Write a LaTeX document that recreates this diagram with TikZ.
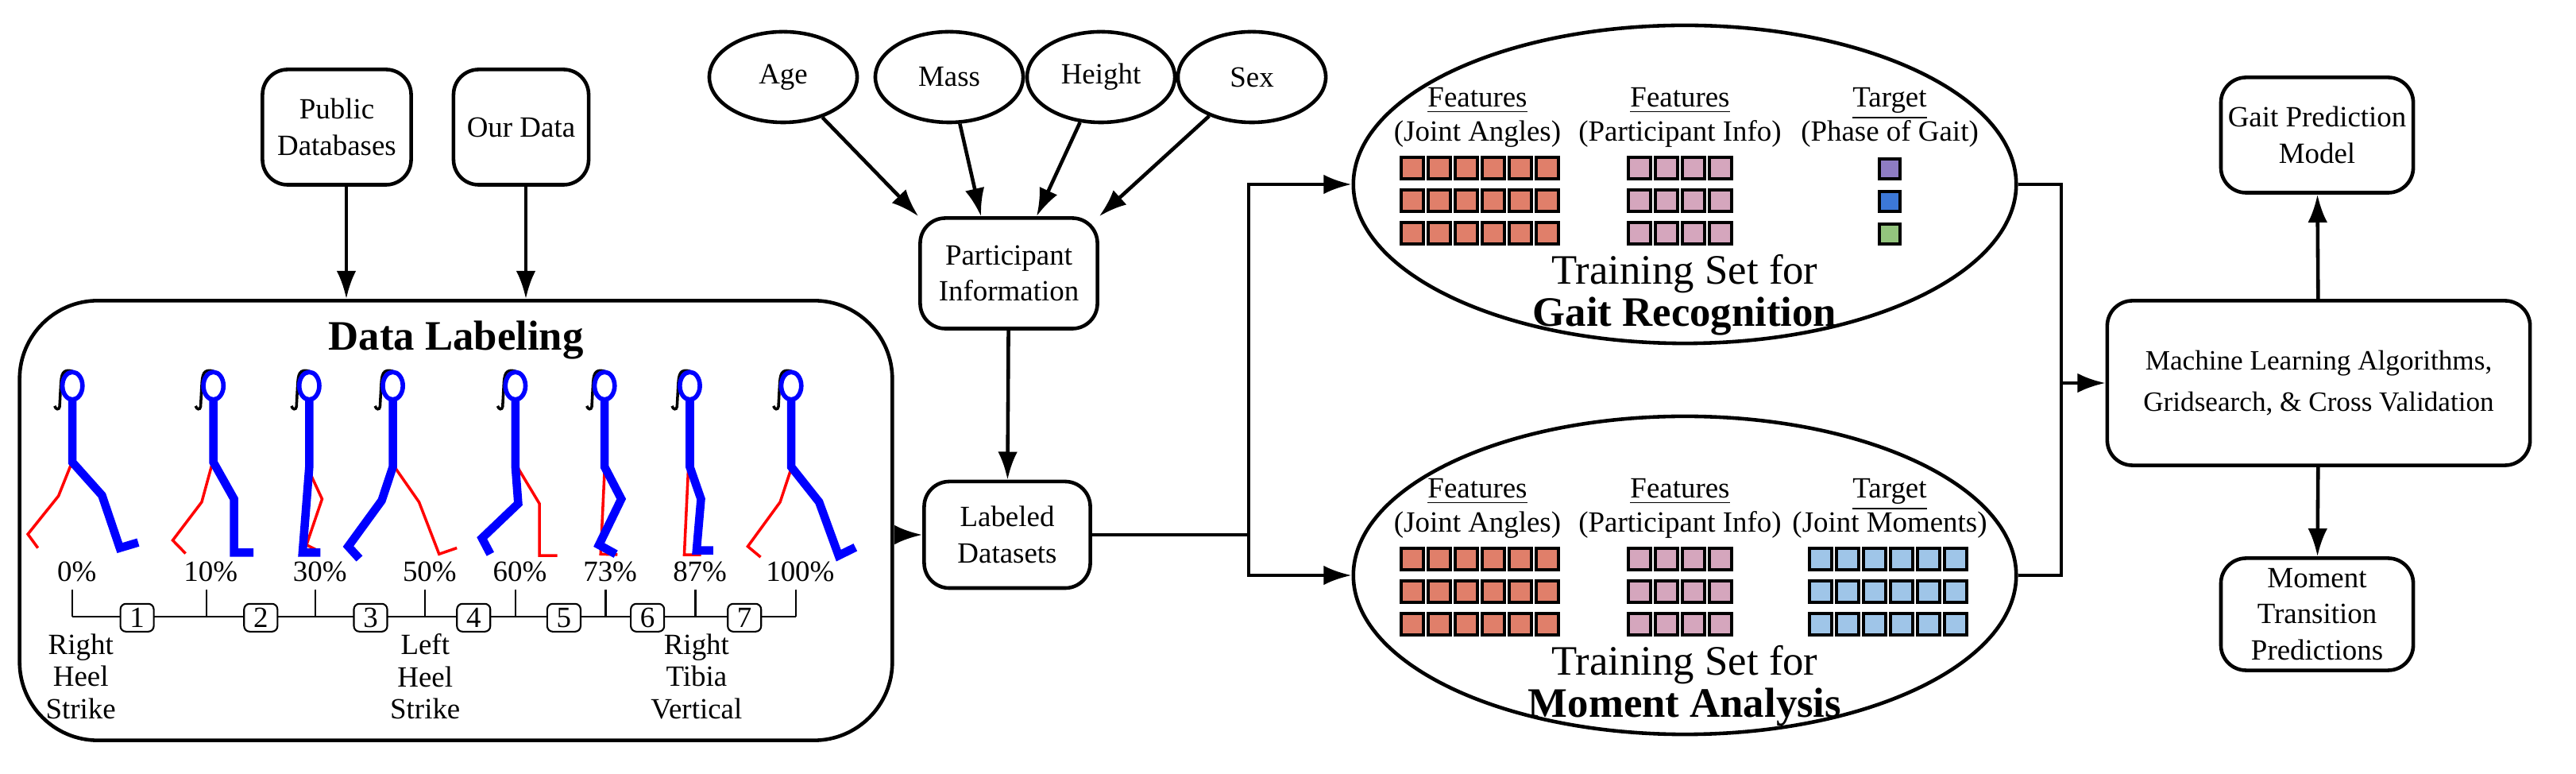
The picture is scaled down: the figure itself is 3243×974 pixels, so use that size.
\documentclass[tikz,border=0pt]{standalone}
\usepackage{fontspec}
\setmainfont{Liberation Serif}
\usetikzlibrary{positioning}
\usetikzlibrary{shapes.geometric,arrows.meta}

% colours of the data squares
\definecolor{angleC}{HTML}{E07F6A}
\definecolor{infoC}{HTML}{D5A6BD}
\definecolor{phaseA}{HTML}{8E7CC3}
\definecolor{phaseB}{HTML}{3C78D8}
\definecolor{phaseC}{HTML}{93C47D}
\definecolor{momentC}{HTML}{9FC5E8}

\newcommand{\LW}{1.3pt}
% walker: head x, hip y, blue leg, red leg
\newcommand{\WALKER}[4]{%
	\draw[black, line width=1pt] (#1,252) .. controls (#1-18,244) and (#1-20,262) .. (#1-21,300) -- (#1-23,368) .. controls (#1-24,380) and (#1-30,378) .. (#1-32,366);
	\draw[red, line width=1pt] #4;
	\draw[blue, line width=3pt] (#1,345) -- (#1,#2) -- #3;
	\draw[blue, line width=1.6pt] (#1,300) ellipse [x radius=18, y radius=45];
}
% a row of squares: x, y, count, colour
\newcommand{\SQROW}[4]{%
	\foreach \k in {1,...,#3}{
		\draw[line width=1pt, fill=#4] ({#1+(\k-1)*34},#2) rectangle ++(28,27);
	}
}

\begin{document}
\begin{tikzpicture}[x=0.01cm, y=-0.01cm, >={Latex[length=10pt,width=7pt]}]
\tikzstyle{every node}=[font=\fontsize{10.5}{13}\selectfont]
\tikzstyle{box}=[draw, line width=\LW, rounded corners=9pt, align=center, inner sep=2pt]
\tikzstyle{oval}=[draw, line width=\LW, ellipse, minimum width=1.86cm, minimum height=1.14cm, inner sep=0pt]
\tikzstyle{big oval}=[draw, line width=\LW, ellipse, minimum width=8.34cm, minimum height=4cm]
\tikzstyle{link}=[line width=\LW, ->]
\useasboundingbox (0,0) rectangle (3243,974);

% Sources
	\node[box, minimum width=1.87cm, minimum height=1.45cm] (public) at (424,160) {Public\\Databases};
	\node[box, minimum width=1.70cm, minimum height=1.45cm] (ours) at (656,160) {Our Data};
	\node[box, minimum width=10.98cm, minimum height=5.53cm, rounded corners=28pt] (label) at (574,655) {};
	\node[font=\fontsize{15}{18}\selectfont\bfseries] at (574,428) {Data Labeling};

	\draw[link] (public.south -| 436,0) -- (label.north -| 436,0);
	\draw[link] (ours.south -| 662,0) -- (label.north -| 662,0);

% Walkers
\begin{scope}[shift={(0,370)}, xscale=0.7015, yscale=0.385]
	\WALKER{130}{550}{(183,658) -- (215,830) -- (248,812)}{(128,555) -- (105,660) -- (50,785) -- (68,830)}
	\WALKER{383}{550}{(420,670) -- (420,845) -- (455,845)}{(380,560) -- (362,680) -- (310,805) -- (333,848)}
	\WALKER{555}{565}{(543,845) -- (575,845)}{(555,580) -- (578,670) -- (550,820) -- (572,840)}
	\WALKER{705}{565}{(685,675) -- (625,825) -- (645,865)}{(708,565) -- (752,680) -- (788,850) -- (820,830)}
	\WALKER{925}{565}{(930,685) -- (865,798) -- (880,850)}{(930,570) -- (968,685) -- (968,855) -- (1000,855)}
	\WALKER{1085}{565}{(1115,670) -- (1075,820) -- (1105,850)}{(1085,575) -- (1078,850) -- (1108,852)}
	\WALKER{1238}{565}{(1258,670) -- (1250,838) -- (1280,838)}{(1235,580) -- (1228,852) -- (1258,852)}
	\WALKER{1420}{565}{(1470,680) -- (1505,855) -- (1535,828)}{(1420,570) -- (1400,680) -- (1342,825) -- (1365,860)}

% Timeline
	\draw[line width=0.6pt] (130,1055) -- (1428,1055);
	\foreach \tx/\pc in {130/0\%, 370/10\%, 566/30\%, 763/50\%, 925/60\%, 1087/73\%, 1248/87\%, 1428/100\%} {
		\draw[line width=0.6pt] (\tx,965) -- (\tx,1055);
		\node[anchor=base] at (\tx+8,940) {\pc};
	}
	\foreach \bx/\n in {246/1, 468/2, 665/3, 850/4, 1012/5, 1162/6, 1336/7} {
		\node[draw, line width=0.6pt, rounded corners=2pt, fill=white, minimum width=0.42cm, minimum height=0.35cm, inner sep=1pt] (step\n) at (\bx,1058) {\n};
	}
	\node[align=center, font=\fontsize{10.5}{11.5}\selectfont] at (145,1250) {Right\\Heel\\Strike};
	\node[align=center, font=\fontsize{10.5}{11.5}\selectfont] at (763,1250) {Left\\Heel\\Strike};
	\node[align=center, font=\fontsize{10.5}{11.5}\selectfont] at (1250,1250) {Right\\Tibia\\Vertical};
\end{scope}

% Participant information
	\node[oval] (age) at (986,97) {Age};
	\node[oval] (mass) at (1195,97) {Mass};
	\node[oval] (height) at (1386,97) {Height};
	\node[oval] (sex) at (1576,97) {Sex};
	\node[box, minimum width=2.23cm, minimum height=1.39cm] (info) at (1270,344) {Participant\\Information};
	\node[box, minimum width=2.09cm, minimum height=1.34cm] (labeled) at (1268,673) {Labeled\\Datasets};

	\draw[link] (age) -- (info.north west);
	\draw[link] (mass) -- ([xshift=-0.35cm]info.north);
	\draw[link] (height) -- ([xshift=0.35cm]info.north);
	\draw[link] (sex) -- (info.north east);
	\draw[link] (info) -- (labeled);
	\draw[link] (label.east |- labeled) -- (labeled);

% Training sets
	\node[big oval] (gait) at (2121,232) {};
	\node[big oval] (moment) at (2121,724) {};
	\coordinate (split) at (1572,673);
	\draw[line width=\LW] (labeled) -- (split);
	\draw[link] (split) |- (gait);
	\draw[link] (split) |- (moment);

	\foreach \oy/\tgt/\tname in {0/{Phase of Gait}/{Gait Recognition}, 492/{Joint Moments}/{Moment Analysis}} {
		\node[anchor=base] at (1860,135+\oy) {\underline{Features}};
		\node[anchor=base] at (1860,178+\oy) {(Joint Angles)};
		\node[anchor=base] at (2115,135+\oy) {\underline{Features}};
		\node[anchor=base] at (2115,178+\oy) {(Participant Info)};
		\node[anchor=base] at (2379,135+\oy) {\underline{Target}};
		\node[anchor=base] at (2379,178+\oy) {(\tgt)};
		\node[font=\fontsize{15}{18}\selectfont] at (2121,345+\oy) {Training Set for};
		\node[font=\fontsize{15}{18}\selectfont\bfseries] at (2121,398+\oy) {\tname};
		\foreach \r in {0,1,2} {
			\SQROW{1764}{198+41*\r+\oy}{6}{angleC}
			\SQROW{2050}{198+41*\r+\oy}{4}{infoC}
		}
	}
	\draw[line width=1pt, fill=phaseA] (2366,200) rectangle ++(26,25);
	\draw[line width=1pt, fill=phaseB] (2366,241) rectangle ++(26,25);
	\draw[line width=1pt, fill=phaseC] (2366,282) rectangle ++(26,25);
	\foreach \r in {0,1,2} {
		\SQROW{2278}{690+41*\r}{6}{momentC}
	}

% Model
	\node[box, minimum width=5.32cm, minimum height=2.07cm, font=\fontsize{10}{15}\selectfont] (ml) at (2919,482) {Machine Learning Algorithms,\\Gridsearch, \& Cross Validation};
	\node[box, minimum width=2.42cm, minimum height=1.45cm] (predict) at (2917,170) {Gait Prediction\\Model};
	\node[box, minimum width=2.42cm, minimum height=1.41cm] (transit) at (2917,773) {Moment\\Transition\\Predictions};
	\coordinate (join) at (2595,482);
	\draw[line width=\LW] (gait.east) -| (join);
	\draw[line width=\LW] (moment.east) -| (join);
	\draw[link] (join) -- (ml);
	\draw[link] (ml) -- (predict);
	\draw[link] (ml) -- (transit);
\end{tikzpicture}
\end{document}
